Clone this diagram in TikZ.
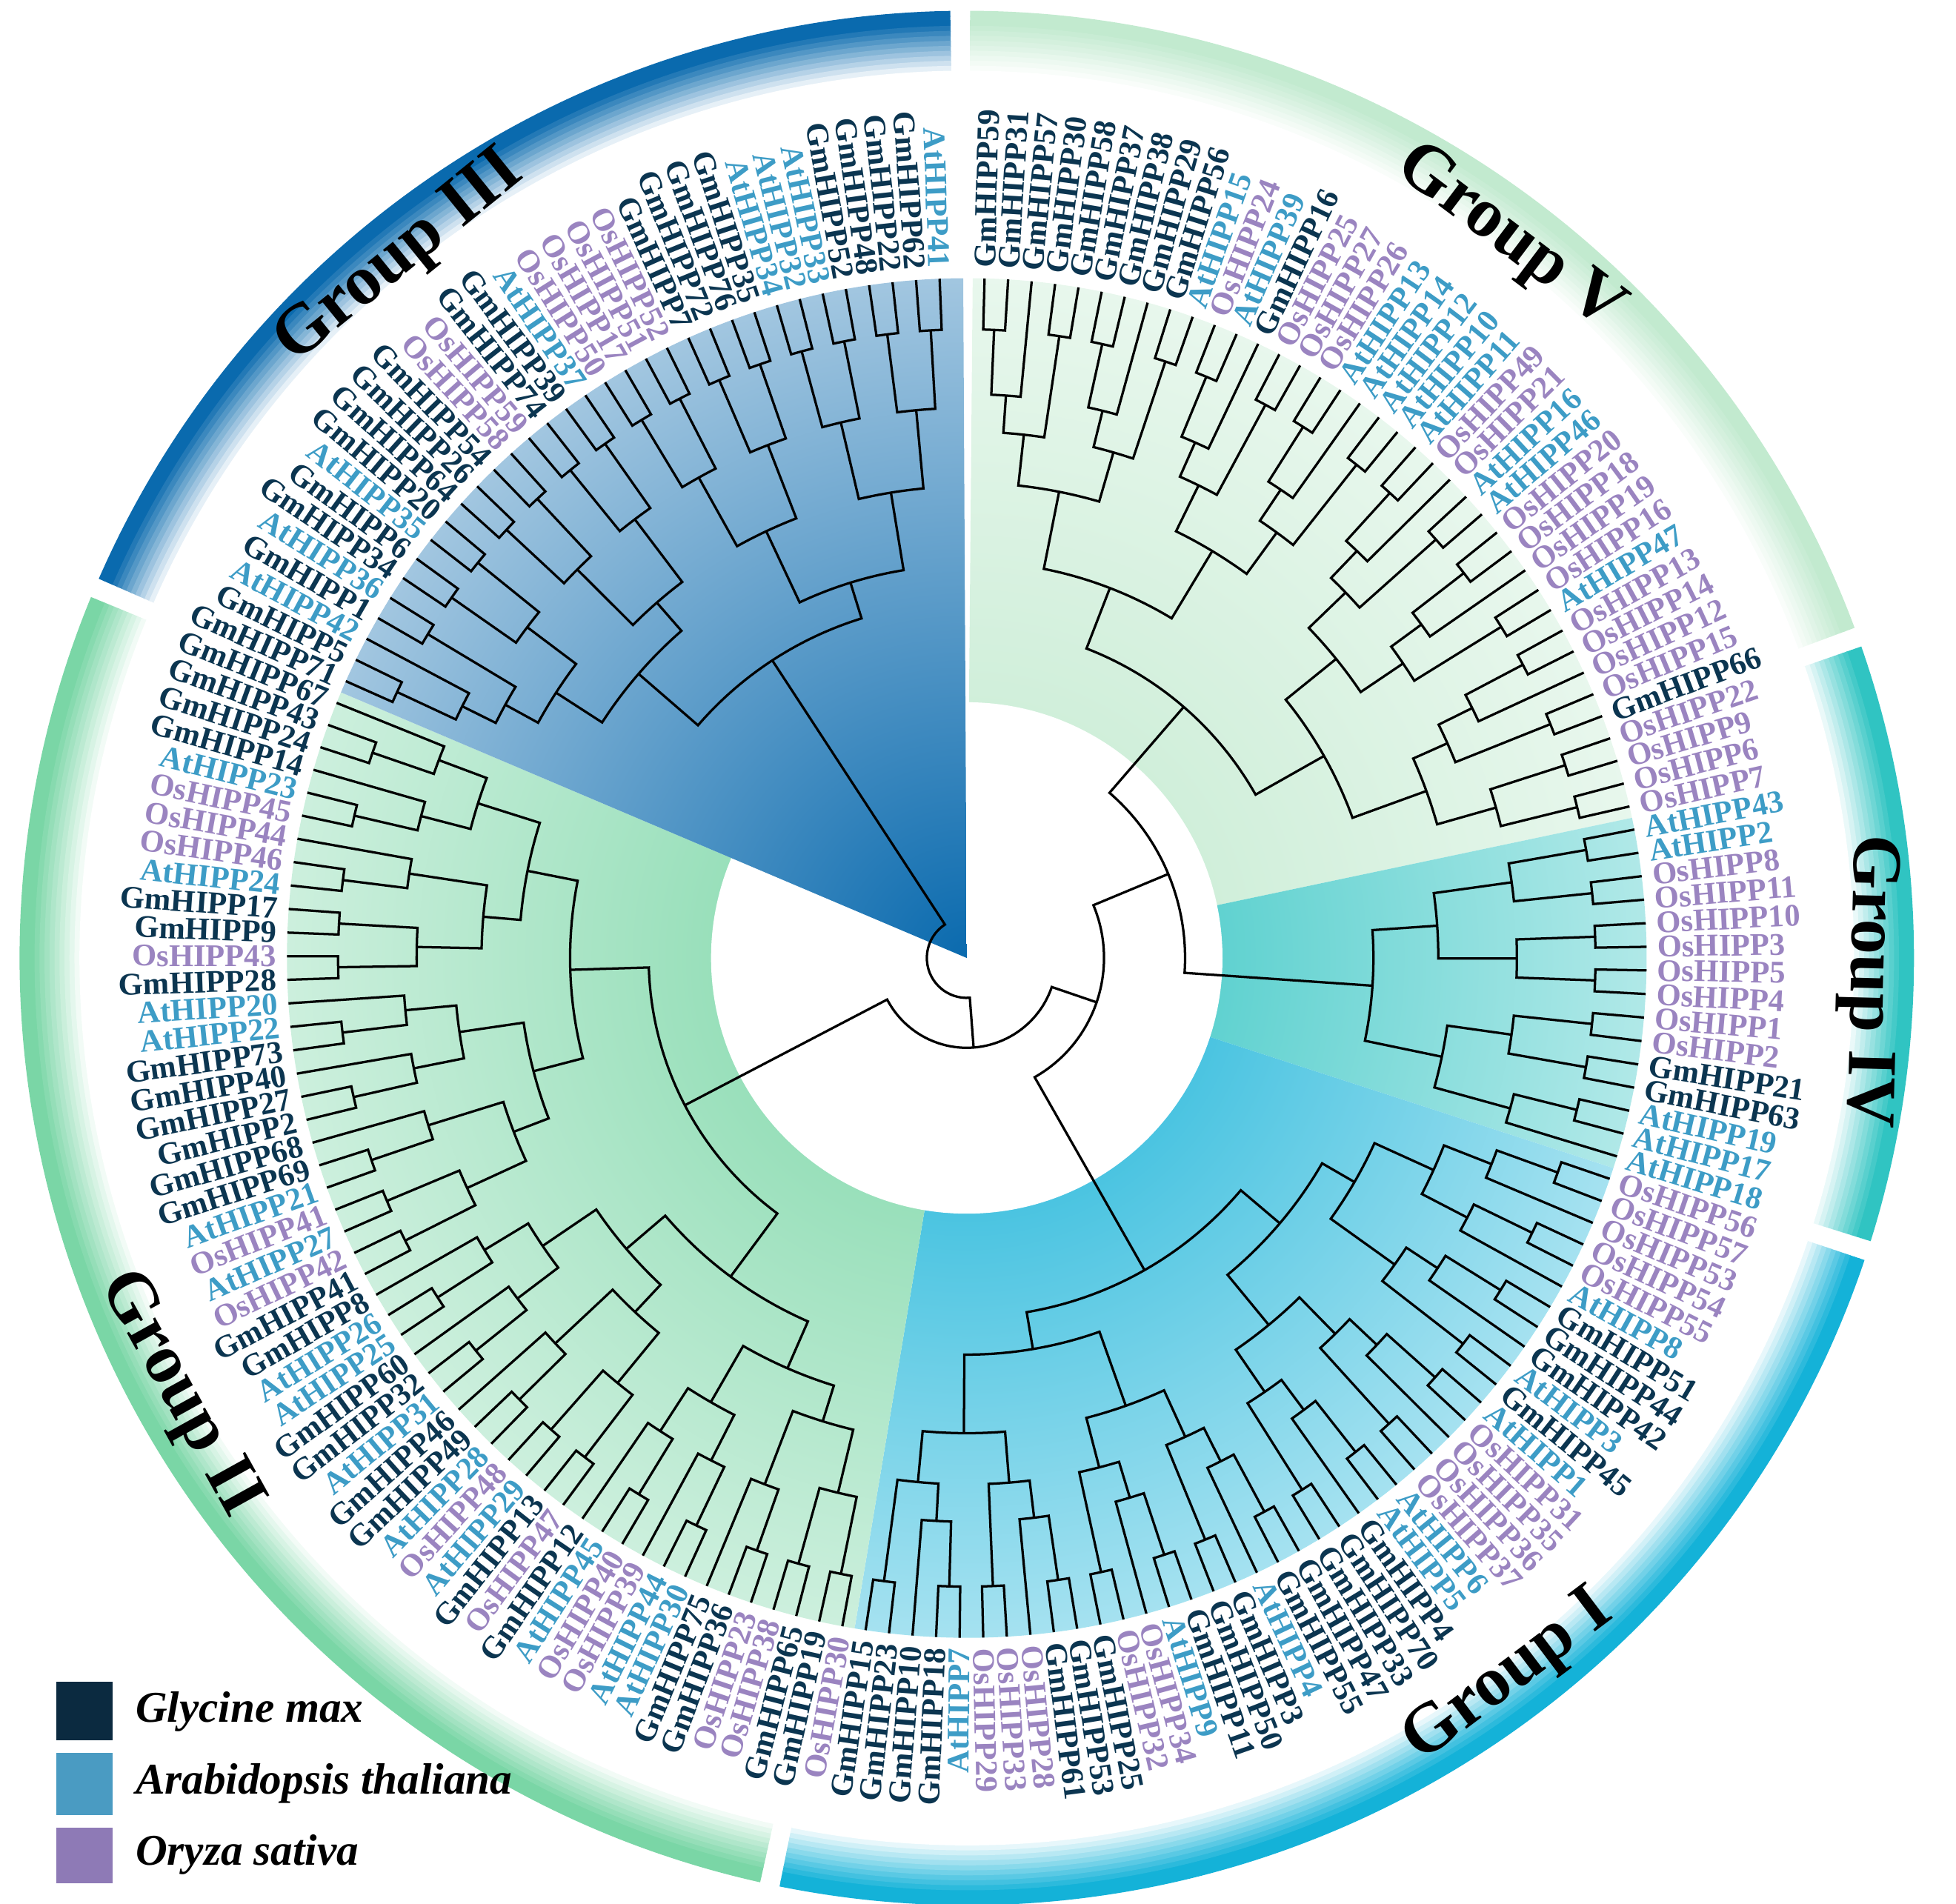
\documentclass[tikz,border=0pt]{standalone}
\usepackage{fontspec}
\setmainfont{Liberation Serif}
\begin{document}
\def\stp{1.99}\def\Rtip{545}\def\Rmin{205}\def\Rlab{553}
\def\pG{Gm}\def\pA{At}\def\pO{Os}
\definecolor{cG}{HTML}{0B3550}\definecolor{cA}{HTML}{3D9CC6}\definecolor{cO}{HTML}{9A84C0}
\definecolor{gIII}{HTML}{0A6AAE}\definecolor{gII}{HTML}{7AD6A6}\definecolor{gI}{HTML}{14B2D8}
\definecolor{gIV}{HTML}{30C4C2}\definecolor{gV}{HTML}{C2EACF}
\definecolor{lG}{HTML}{0B2A40}\definecolor{lA}{HTML}{4A9BC2}\definecolor{lO}{HTML}{8E7AB6}
\newcommand\buildtree[2]{%
 \ifnum#1=#2\relax
   \xdef\gA{\fpeval{88.5-(#1-1)*\stp}}\xdef\gR{\Rtip}%
 \else
   \begingroup
   \edef\lo{\the\numexpr#1\relax}\edef\hi{\the\numexpr#2\relax}%
   \edef\mm{\the\numexpr(\lo+\hi-1)/2\relax}%
   \edef\mmp{\the\numexpr\mm+1\relax}%
   \buildtree{\lo}{\mm}\edef\aA{\gA}\edef\rA{\gR}%
   \buildtree{\mmp}{\hi}\edef\aB{\gA}\edef\rB{\gR}%
   \edef\rN{\fpeval{max(\Rmin, min(\rA,\rB)-(30+11*(\lo*7+\hi*13-4*floor((\lo*7+\hi*13)/4))))}}%
   \draw[br] (\aA:\rA) -- (\aA:\rN) arc[start angle=\aA, end angle=\aB, radius=\rN] -- (\aB:\rB);
   \xdef\gA{\fpeval{(\aA+\aB)/2}}\xdef\gR{\rN}%
   \endgroup
 \fi}
\newcommand\joinN[5]{%
 \draw[br] (#1:#2) -- (#1:#5) arc[start angle=#1,end angle=#3,radius=#5] -- (#3:#4);
 \xdef\gA{\fpeval{(#1+#3)/2}}\xdef\gR{#5}}
\newcommand\mywedge[3]{%
 \begin{scope}\clip (0,0) -- (#1:\Rtip) arc[start angle=#1,end angle=#2,radius=\Rtip] -- cycle;
 \shade[inner color=#3, outer color=white] (0,0) circle (880);\end{scope}}
\newcommand\myring[3]{%
 \foreach \k in {0,...,12}{%
  \pgfmathtruncatemacro\pc{min(100,max(0,100-(\k-2)*10))}%
  \pgfmathsetmacro\rr{757-4*\k}%
  \draw[line width=1.35pt, color=#3!\pc!white] (#1:\rr) arc[start angle=#1,end angle=#2,radius=\rr];}}
\begin{tikzpicture}[x=0.01cm,y=0.01cm,
 br/.style={line width=0.55pt, black, line join=miter},
 lab/.style={font=\fontsize{7.2}{8}\selectfont\bfseries, inner sep=0pt},
 grp/.style={font=\fontsize{16}{18}\selectfont\bfseries, inner sep=0pt},
 leg/.style={font=\fontsize{10}{12}\selectfont\bfseries\itshape, anchor=west, inner sep=0pt}]
\useasboundingbox (0,0) rectangle (1568,1526);
\begin{scope}[shift={(775,758)}]
 % wedges
 \mywedge{89.5}{11.9}{gV}
 \mywedge{11.9}{-18.0}{gIV}
 \mywedge{-18.0}{-99.5}{gI}
 \mywedge{-99.5}{-203.0}{gII}
 \fill[white] (0,0) circle (205);
 \mywedge{-203.0}{-269.7}{gIII}
 % rings
 \myring{89.8}{20.4}{gV}
 \myring{19.2}{-17.4}{gIV}
 \myring{-18.6}{-101.4}{gI}
 \myring{-102.6}{-202.4}{gII}
 \myring{-203.6}{-269.0}{gIII}
 % tree
 \buildtree{1}{39}\edef\aV{\gA}\edef\rV{\gR}
 \buildtree{40}{54}\edef\aIV{\gA}\edef\rIV{\gR}
 \buildtree{55}{95}\edef\aI{\gA}\edef\rI{\gR}
 \buildtree{96}{147}\edef\aII{\gA}\edef\rII{\gR}
 \buildtree{148}{180}\edef\aIII{\gA}\edef\rIII{\gR}
 \joinN{\aV}{\rV}{\aIV}{\rIV}{175}\edef\aJa{\gA}\edef\rJa{\gR}
 \joinN{\aJa}{\rJa}{\aI}{\rI}{110}\edef\aJb{\gA}\edef\rJb{\gR}
 \joinN{\aJb}{\rJb}{\aII}{\rII}{72}\edef\aJc{\gA}\edef\rJc{\gR}
 \joinN{\aJc}{\rJc}{\aIII}{\rIII}{32}
 % labels
 \foreach \t/\n [count=\i] in {G/59,G/31,G/57,G/30,G/58,G/37,G/38,G/29,G/56,A/15,O/24,A/39,G/16,O/25,O/27,O/26,A/13,A/14,A/12,A/10,A/11,O/49,O/21,A/16,A/46,O/20,O/18,O/19,O/16,A/47,O/13,O/14,O/12,O/15,G/66,O/22,O/9,O/6,O/7,A/43,A/2,O/8,O/11,O/10,O/3,O/5,O/4,O/1,O/2,G/21,G/63,A/19,A/17,A/18,O/56,O/57,O/53,O/54,O/55,A/8,G/51,G/44,G/42,A/3,G/45,A/1,O/31,O/35,O/36,O/37,A/6,A/5,G/4,G/70,G/33,G/47,G/55,A/4,G/3,G/50,G/11,A/9,O/34,O/32,G/25,G/53,G/61,O/28,O/33,O/29,A/7,G/18,G/10,G/23,G/15,O/30,G/19,G/65,O/38,O/23,G/36,G/75,A/30,A/44,O/39,O/40,A/45,G/12,O/47,G/13,A/29,O/48,A/28,G/49,G/46,A/31,G/32,G/60,A/25,A/26,G/8,G/41,O/42,A/27,O/41,A/21,G/69,G/68,G/2,G/27,G/40,G/73,A/22,A/20,G/28,O/43,G/9,G/17,A/24,O/46,O/44,O/45,A/23,G/14,G/24,G/43,G/67,G/71,G/5,A/42,G/1,A/36,G/34,G/6,A/35,G/20,G/64,G/26,G/54,O/58,O/59,G/74,G/39,A/37,O/50,O/17,O/51,O/52,G/7,G/72,G/76,G/35,A/34,A/32,A/33,G/52,G/48,G/22,G/62,A/41}{%
  \pgfmathsetmacro\th{88.5-(\i-1)*\stp}%
  \ifdim\th pt>-90pt
   \node[lab,text=c\t,anchor=west,rotate=\th] at (\th:\Rlab) {\csname p\t\endcsname HIPP\n};
  \else
   \pgfmathsetmacro\tr{\th+180}%
   \node[lab,text=c\t,anchor=east,rotate=\tr] at (\th:\Rlab) {\csname p\t\endcsname HIPP\n};
  \fi}
 % group labels
 \node[grp,rotate=39] (g3) at (129:722) {Group III};
 \node[grp,rotate=-37] (g5) at (53:722) {Group V};
 \node[grp,rotate=-91.5] (g4) at (-1.5:722) {Group IV};
 \node[grp,rotate=37] (g1) at (-53:722) {Group I};
 \node[grp,rotate=-61] (g2) at (209:722) {Group II};
\end{scope}
% legend
\fill[lG] (45,131) rectangle (90,178);
\fill[lA] (45,71) rectangle (90,121);
\fill[lO] (45,16) rectangle (90,61);
\node[leg] (l1) at (108,154) {Glycine max};
\node[leg] (l2) at (108,96) {Arabidopsis thaliana};
\node[leg] (l3) at (108,39) {Oryza sativa};
\end{tikzpicture}
\end{document}
